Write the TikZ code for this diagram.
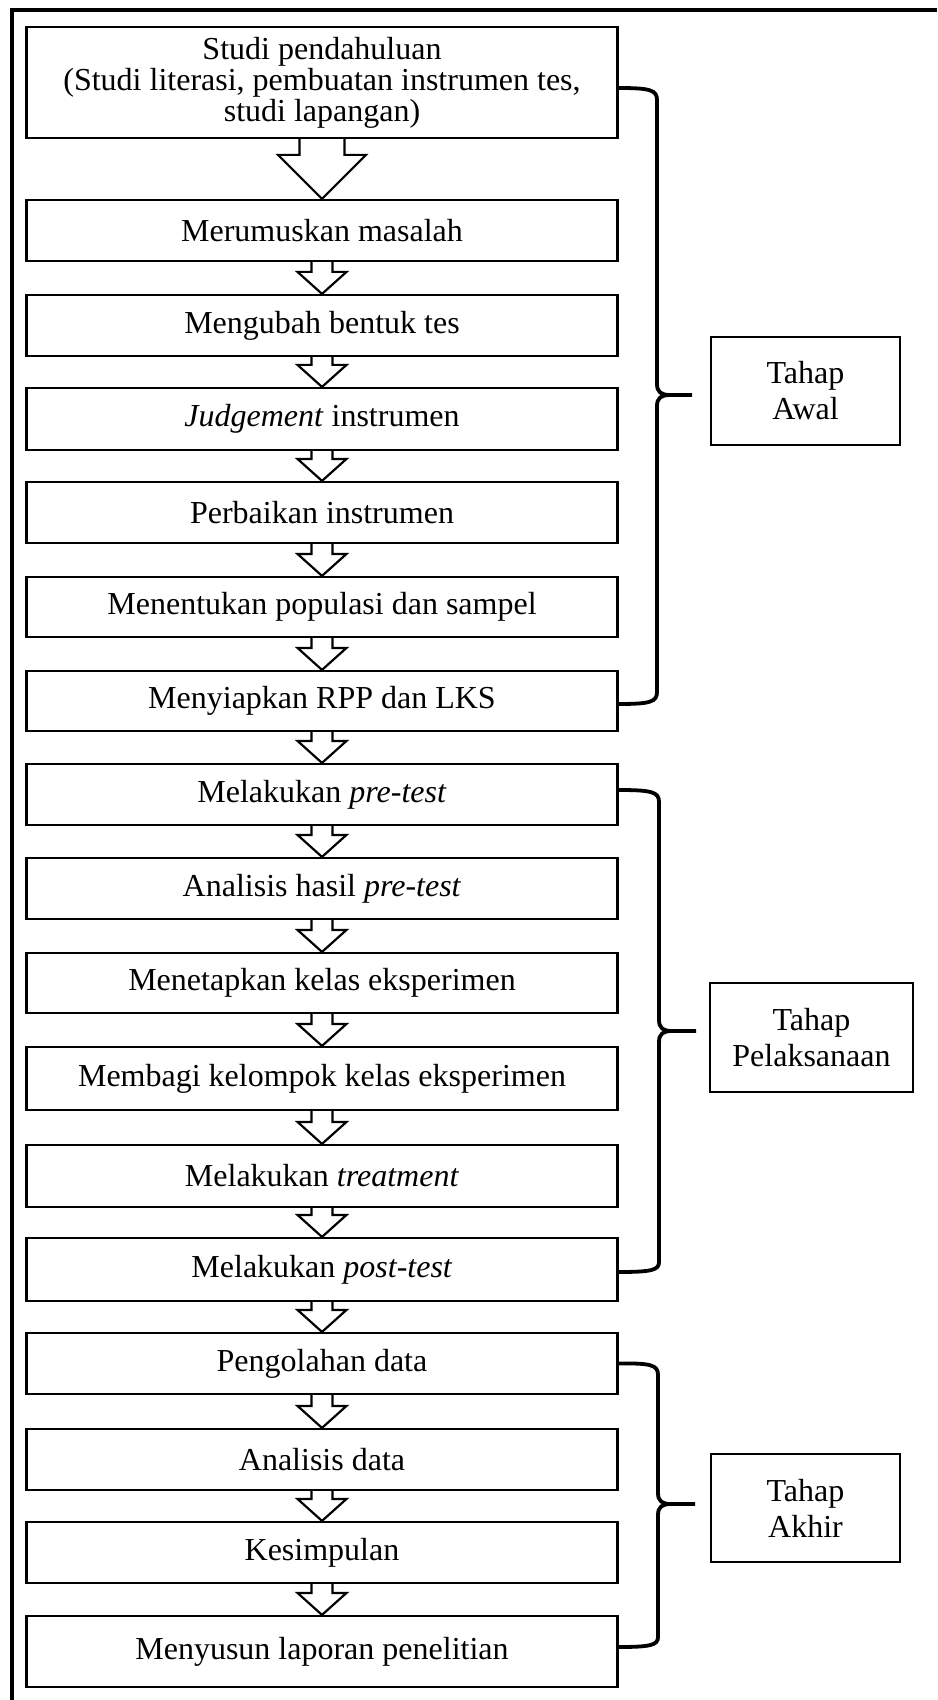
\documentclass[tikz,border=0pt]{standalone}
\usepackage{fontspec}
\setmainfont{Liberation Serif}
\usetikzlibrary{calc}
\newcommand\blkarrow[5]{%
  \draw[blk] ($(#1.south)+(-#3,0)$) -- ($(#2.north)+(-#3,-#5)$) -- ($(#2.north)+(-#4,-#5)$) -- (#2.north) -- ($(#2.north)+(#4,-#5)$) -- ($(#2.north)+(#3,-#5)$) -- ($(#1.south)+(#3,0)$);}
\begin{document}
\begin{tikzpicture}[x=0.5pt,y=-0.5pt,
  box/.style={draw, line width=1.1pt, minimum width=295.5pt, inner sep=0pt, align=center, font=\fontsize{16}{14.5}\selectfont},
  mh/.style={minimum height=#1*0.5pt},
  tahap/.style={draw, line width=1.1pt, inner sep=0pt, align=center, font=\fontsize{16}{18}\selectfont},
  blk/.style={draw, line width=1.1pt, line join=miter},
  brc/.style={line width=1.9pt},
  frame/.style={line width=2pt}]
\useasboundingbox (0,0) rectangle (937,1700);
\draw[frame] (12,1700) -- (12,10) -- (937,10);
% main boxes
\node[box, mh=111] (b1) at (322,82.5) {Studi pendahuluan\\(Studi literasi, pembuatan instrumen tes,\\studi lapangan)};
\node[box, mh=61] (b2) at (322,230.5) {Merumuskan masalah};
\node[box, mh=61] (b3) at (322,325.5) {Mengubah bentuk tes};
\node[box, mh=62] (b4) at (322,419) {\textit{Judgement} instrumen};
\node[box, mh=61] (b5) at (322,512.5) {Perbaikan instrumen};
\node[box, mh=60] (b6) at (322,607) {Menentukan populasi dan sampel};
\node[box, mh=60] (b7) at (322,701) {Menyiapkan RPP dan LKS};
\node[box, mh=61] (b8) at (322,794.5) {Melakukan \textit{pre-test}};
\node[box, mh=61] (b9) at (322,888.5) {Analisis hasil \textit{pre-test}};
\node[box, mh=60] (b10) at (322,983) {Menetapkan kelas eksperimen};
\node[box, mh=63] (b11) at (322,1078.5) {Membagi kelompok kelas eksperimen};
\node[box, mh=62] (b12) at (322,1176) {Melakukan \textit{treatment}};
\node[box, mh=63] (b13) at (322,1269.5) {Melakukan \textit{post-test}};
\node[box, mh=61] (b14) at (322,1363.5) {Pengolahan data};
\node[box, mh=61] (b15) at (322,1459.5) {Analisis data};
\node[box, mh=61] (b16) at (322,1552.5) {Kesimpulan};
\node[box, mh=71] (b17) at (322,1651.5) {Menyusun laporan penelitian};
% arrows
\blkarrow{b1}{b2}{22.5}{44}{44}
\foreach \a/\b in {b2/b3,b3/b4,b4/b5,b5/b6,b6/b7,b7/b8,b8/b9,b9/b10,b10/b11,b11/b12,b12/b13,b13/b14,b14/b15,b15/b16,b16/b17}{
  \blkarrow{\a}{\b}{10.5}{24.5}{22}
}
% stage boxes
\node[tahap, minimum width=94.5pt, minimum height=54pt] (tA) at (805.5,391) {Tahap\\Awal};
\node[tahap, minimum width=101.5pt, minimum height=54.5pt] (tP) at (811.5,1037.5) {Tahap\\Pelaksanaan};
\node[tahap, minimum width=94.5pt, minimum height=54pt] (tK) at (805.5,1508) {Tahap\\Akhir};
% brace tips
\coordinate (pA) at (692,395);
\coordinate (pP) at (696,1031);
\coordinate (pK) at (695,1504);
% braces
\draw[brc] ($(b1.east)+(0,5.5)$) .. controls (650,88) and (657,90) .. (657,100) -- (657,384) .. controls (657,392) and (661,395) .. (670,395) -- (pA);
\draw[brc] (670,395) .. controls (661,395) and (657,398) .. (657,406) -- (657,692) .. controls (657,702) and (650,704) .. ($(b7.east)+(0,3)$);
\draw[brc] ($(b8.east)+(0,-4.5)$) .. controls (652,790) and (659,792) .. (659,802) -- (659,1020) .. controls (659,1028) and (663,1031) .. (672,1031) -- (pP);
\draw[brc] (672,1031) .. controls (663,1031) and (659,1034) .. (659,1042) -- (659,1262) .. controls (659,1270) and (652,1272) .. ($(b13.east)+(0,2.5)$);
\draw[brc] (b14.east) .. controls (651,1363) and (658,1365) .. (658,1375) -- (658,1493) .. controls (658,1501) and (662,1504) .. (671,1504) -- (pK);
\draw[brc] (671,1504) .. controls (662,1504) and (658,1507) .. (658,1515) -- (658,1637) .. controls (658,1645) and (651,1647) .. ($(b17.east)+(0,-4.5)$);
\end{tikzpicture}
\end{document}
